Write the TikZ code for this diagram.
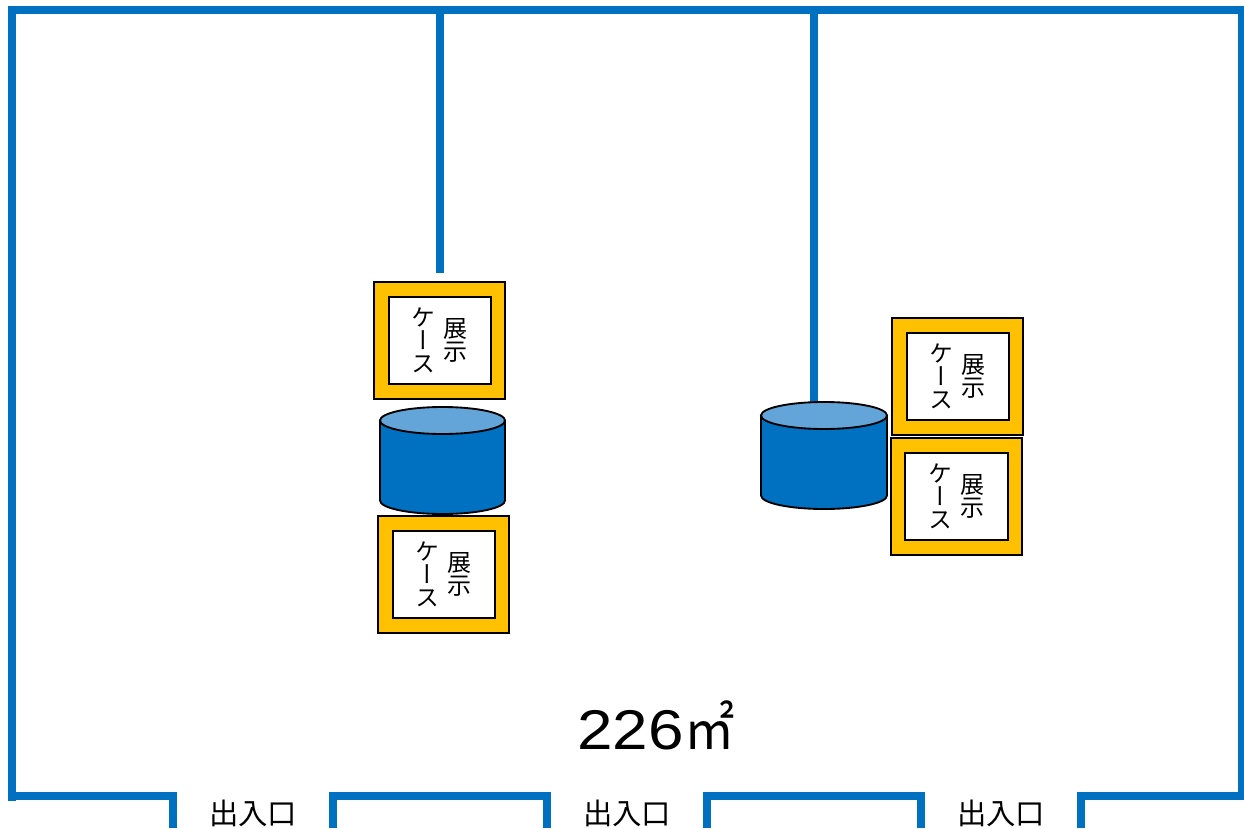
\documentclass[tikz,border=0pt]{standalone}
\usepackage{fontspec}
\setmainfont{Noto Sans CJK JP}
\newfontfamily\vertfont[RawFeature=+vert]{Noto Sans CJK JP}
\newfontfamily\areafont{Liberation Sans}
\definecolor{wallblue}{RGB}{0,112,192}
\definecolor{caseyellow}{RGB}{255,192,0}
\definecolor{toplight}{RGB}{99,165,216}
\tikzset{
  wall/.style={draw=wallblue,line width=6pt,line cap=butt,line join=miter},
  caseouter/.style={draw=black,line width=1.5pt,fill=caseyellow},
  caseinner/.style={draw=black,line width=1.5pt,fill=white},
  casetext/.style={font=\vertfont\fontsize{18}{17.2}\selectfont,align=center,inner sep=0pt},
  doortext/.style={font=\fontsize{22}{22}\selectfont,inner sep=0pt},
  cylbody/.style={draw=black,line width=1.4pt,fill=wallblue},
  cyltop/.style={draw=black,line width=1.4pt,fill=toplight},
}
\newcommand{\showcase}[3]{% name, x0, y0 of the outer top left corner
  \draw[caseouter] (#2,#3) rectangle ++(131,116.5);
  \draw[caseinner] (#2+14.5,#3+14.5) rectangle ++(102.5,87.5);
  \node[casetext] (#1a) at (#2+81.5,#3+58) {展\\示};
  \node[casetext] (#1b) at (#2+49.5,#3+58) {ケ\\ー\\ス};
}
\newcommand{\showcyl}[4]{% name, left, right, top-ellipse centre y
  \path[cylbody] (#2,#4) -- (#2,#4+80) arc[start angle=180,end angle=0,x radius={(#3-#2)/2},y radius=13.5] -- (#3,#4) -- cycle;
  \draw[cyltop] ({(#2+#3)/2},#4) ellipse[x radius={(#3-#2)/2},y radius=13.5];
}
\begin{document}
\begin{tikzpicture}[x=0.75pt,y=-0.75pt]
\useasboundingbox (0,0) rectangle (1244,828);
% walls
\draw[wall] (12,801) -- (12,10) -- (1242,10) -- (1242,796) -- (1081,796) -- (1081,828);
\draw[wall] (8,796) -- (173,796) -- (173,828);
\draw[wall] (333,828) -- (333,796) -- (547,796) -- (547,828);
\draw[wall] (707,828) -- (707,796) -- (921,796) -- (921,828);
\draw[wall] (440,10) -- (440,273);
\draw[wall] (814,10) -- (814,403);
% cylinders
\showcyl{c1}{380}{505}{420.5}
\showcyl{c2}{761}{887}{415.5}
% cases
\showcase{s1}{374}{282}
\showcase{s2}{378}{516}
\showcase{s3}{892}{318}
\showcase{s4}{890.5}{438}
% labels
\node[doortext] (d1) at (253,813) {出入口};
\node[doortext] (d2) at (627,813) {出入口};
\node[doortext] (d3) at (1001,813) {出入口};
\node[inner sep=0pt,anchor=base west,font=\areafont\fontsize{42}{42}\selectfont,xscale=1.14] (area) at (577,749) {226};
\node[inner sep=0pt,anchor=base west,font=\fontsize{42}{42}\selectfont,xscale=0.9] (unit) at (684,749) {㎡};
\end{tikzpicture}
\end{document}
